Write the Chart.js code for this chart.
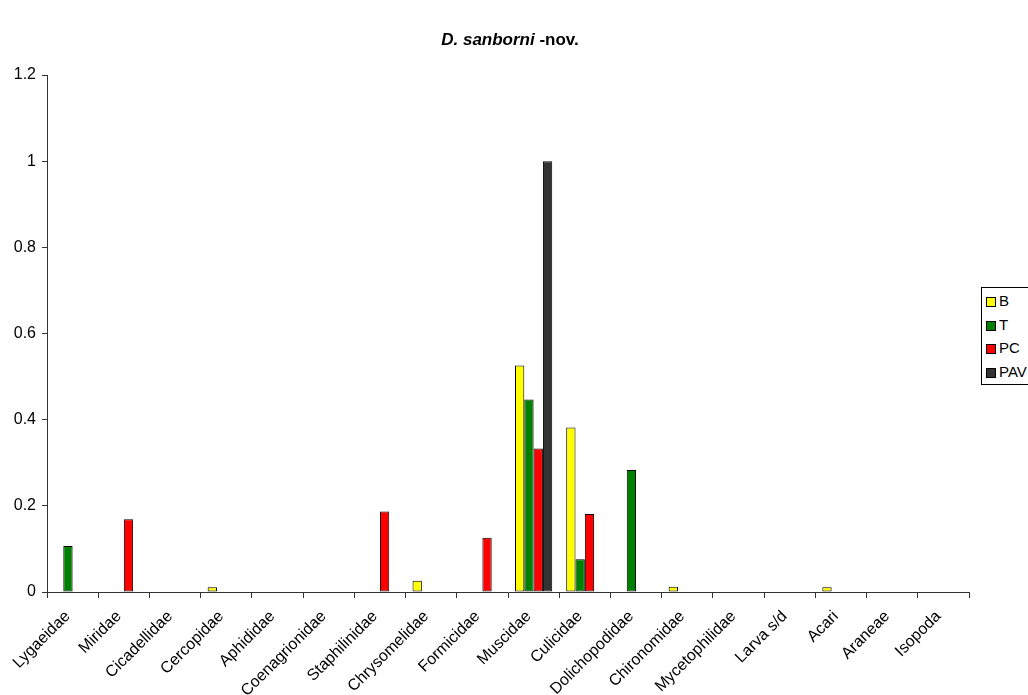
<!DOCTYPE html>
<html>
<head>
<meta charset="utf-8">
<script src="https://cdn.jsdelivr.net/npm/chart.js@4/dist/chart.umd.min.js"></script>
<style>
  html, body { margin: 0; padding: 0; background: #fff; overflow: hidden; }
  #wrap { position: relative; width: 1028px; height: 695px; font-family: "Liberation Sans", Arial, sans-serif; }
  #title { position: absolute; left: 0; width: 1020px; top: 30px; text-align: center; font-size: 17px; font-weight: bold; line-height: 20px; }
  #legend { position: absolute; left: 981px; top: 287px; width: 80px; border: 1px solid #000; background: #fff; padding: 1px 0 1px 4px; font-size: 15px; }
  #legend div { line-height: 23.5px; height: 23.5px; white-space: nowrap; }
  #legend span.sw { display: inline-block; width: 8px; height: 8px; border: 1px solid #000; margin-right: 3px; vertical-align: -1px; }
</style>
</head>
<body>
<div id="wrap">
  <div id="title"><i>D. sanborni</i> -nov.</div>
  <canvas id="myBarChart" width="1028" height="695"></canvas>
  <div id="legend"></div>
</div>
<script>
const labels = [
  'Lygaeidae', 'Miridae', 'Cicadellidae', 'Cercopidae', 'Aphididae', 'Coenagrionidae',
  'Staphilinidae', 'Chrysomelidae', 'Formicidae', 'Muscidae', 'Culicidae', 'Dolichopodidae',
  'Chironomidae', 'Mycetophilidae', 'Larva s/d', 'Acari', 'Araneae', 'Isopoda',
];

const seriesNames = ['B', 'T', 'PC', 'PAV'];
const seriesColors = ['#FFFF00', '#008000', '#FF0000', '#333333'];

const valuesB   = [0, 0, 0, 0.011, 0, 0, 0, 0.026, 0, 0.526, 0.382, 0, 0.012, 0, 0, 0.011, 0, 0];
const valuesT   = [0.107, 0, 0, 0, 0, 0, 0, 0, 0, 0.447, 0.076, 0.283, 0, 0, 0, 0, 0, 0];
const valuesPC  = [0, 0.169, 0, 0, 0, 0, 0.187, 0, 0.126, 0.333, 0.181, 0, 0, 0, 0, 0, 0, 0];
const valuesPAV = [0, 0, 0, 0, 0, 0, 0, 0, 0, 1, 0, 0, 0, 0, 0, 0, 0, 0];

const yTicks = [0, 0.2, 0.4, 0.6, 0.8, 1, 1.2];

const allValues = [valuesB, valuesT, valuesPC, valuesPAV];

const data = {
  labels: labels,
  datasets: seriesNames.map((name, i) => ({
    label: name,
    data: allValues[i].map(v => (v === 0 ? null : v)),
    backgroundColor: seriesColors[i],
    borderColor: '#000',
    borderWidth: 1,
    borderSkipped: false,
    categoryPercentage: 4 / 5.5,
    barPercentage: 1,
  }))
};

const axisColor = '#333';
const tickFont = { family: 'Liberation Sans', size: 16 };

const config = {
  type: 'bar',
  data: data,
  options: {
    responsive: false,
    animation: false,
    layout: { padding: { top: 75, right: 59, left: 0, bottom: 0 } },
    scales: {
      x: {
        grid: { display: true, drawOnChartArea: false, offset: true, tickLength: 6, color: axisColor },
        border: { color: axisColor },
        ticks: {
          autoSkip: false, maxRotation: 45, minRotation: 45, padding: 9, labelOffset: -5,
          color: '#000', font: tickFont
        },
        afterFit: (scale) => { scale.height = 103; }
      },
      y: {
        min: 0,
        max: 1.2,
        afterBuildTicks: (scale) => { scale.ticks = yTicks.map(v => ({ value: v })); },
        grid: { display: true, drawOnChartArea: false, tickLength: 5, color: axisColor },
        border: { color: axisColor },
        ticks: {
          padding: 6, color: '#000', font: tickFont,
          callback: (v) => String(Math.round(v * 10) / 10)
        },
        afterFit: (scale) => { scale.width = 47; }
      }
    },
    plugins: {
      legend: { display: false },
      tooltip: { enabled: false },
      title: { display: false }
    }
  }
};

const myChart = new Chart(document.getElementById('myBarChart'), config);

// legend box, built from the series
const legendEl = document.getElementById('legend');
seriesNames.forEach((name, i) => {
  const row = document.createElement('div');
  row.innerHTML = '<span class="sw" style="background:' + seriesColors[i] + '"></span>' + name;
  legendEl.appendChild(row);
});
</script>
</body>
</html>
